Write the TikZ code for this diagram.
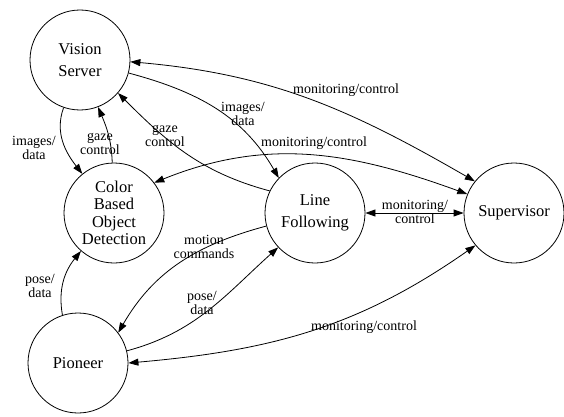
\documentclass[tikz,border=0pt]{standalone}
\usepackage{fontspec}
\setmainfont{Liberation Serif}
\usetikzlibrary{arrows.meta}

\begin{document}
\begin{tikzpicture}[
  x=1pt, y=1pt,
  edge/.style={line width=0.8pt, draw=black},
  arr/.style={-{Triangle[length=10pt,width=7pt]}},
  dbl/.style={{Triangle[length=10pt,width=7pt]}-{Triangle[length=10pt,width=7pt]}},
  v/.style={circle, draw=black, line width=0.8pt, minimum size=100pt, inner sep=0pt,
            align=center, font=\fontsize{16.5}{22}\selectfont},
  lbl/.style={align=center, inner sep=0pt, font=\fontsize{14}{13.5}\selectfont}
]
\useasboundingbox (0,0) rectangle (564,416);

% ===================== Node positions =====================
\coordinate (pvis)  at (80,356);   % vision server
\coordinate (pcbod) at (114,203);  % color based object detection
\coordinate (pline) at (315,203);  % line following
\coordinate (psup)  at (514,203);  % supervisor
\coordinate (ppio)  at (78,53);    % pioneer

% ===================== Nodes =====================
\node[v] (vis)  at (pvis)  {Vision\\Server};
\node[v, font=\fontsize{16.5}{17.5}\selectfont] (cbod) at (pcbod) {Color\\Based\\Object\\Detection};
\node[v] (line) at (pline) {Line\\Following};
\node[v] (sup)  at (psup)  {Supervisor};
\node[v] (pio)  at (ppio)  {Pioneer};

% ===================== Edges =====================
% supervisor links
\draw[edge, dbl] (vis.-2)  to[out=-5, in=150]   (sup.141);
\draw[edge, dbl] (cbod.37) to[out=22, in=160]   (sup.158);
\draw[edge, dbl] (line.east) -- (sup.west);
\draw[edge, dbl] (pio.0)   to[out=5, in=-145]   (sup.-140);

% vision server links
\draw[edge, arr] (vis.-15)  to[out=-15, in=120]  (line.136);
\draw[edge, arr] (line.154) to[out=165, in=-45]  (vis.-41);
\draw[edge, arr] (vis.-109) to[out=-110, in=128] (cbod.129);
\draw[edge, arr] (cbod.92)  to[out=92, in=-67]   (vis.-69);

% pioneer links
\draw[edge, arr] (line.-165) to[out=195, in=60]  (pio.37);
\draw[edge, arr] (pio.14)    to[out=15, in=-138] (line.-137);
\draw[edge, arr] (pio.108)   to[out=100, in=-129] (cbod.-131);

% Labels
\node[lbl] (l1)  at (346,326) {monitoring/control};
\node[lbl] (l2)  at (314,273) {monitoring/control};
\node[lbl] (l3)  at (415,204) {monitoring/\\control};
\node[lbl] (l4)  at (364,89)  {monitoring/control};
\node[lbl] (l5)  at (243,302) {images/\\data};
\node[lbl] (l6)  at (165,280) {gaze\\control};
\node[lbl] (l7)  at (34,268)  {images/\\data};
\node[lbl] (l8)  at (100,272) {gaze\\control};
\node[lbl] (l9)  at (204,169) {motion\\commands};
\node[lbl] (l10) at (202,113) {pose/\\data};
\node[lbl] (l11) at (40,130)  {pose/\\data};

\end{tikzpicture}
\end{document}
